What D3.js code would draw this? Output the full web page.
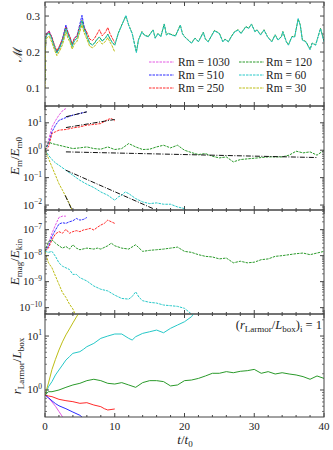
<!DOCTYPE html>
<html lang="en">
<head>
  <meta charset="UTF-8">
  <title>Rm runs</title>
  <script src="https://d3js.org/d3.v7.min.js"></script>
  <style>
    body { margin: 0; background: #fff; }
    text { font-family: "Liberation Serif", "DejaVu Serif", serif; fill: #222; }
    .series { fill: none; stroke-width: 1; }
    .frame { fill: none; stroke: #444; stroke-width: 1; }
  </style>
</head>
<body>
  <div id="chart"></div>
  <script>
    // ---- data ----
    const runNames = ["1030", "510", "250", "120", "60", "30"];
    const runColors = ["#e458e4", "#2a2aff", "#ff2a2a", "#2a9a2a", "#26c8c8", "#bdbd14"];

    // Mach number, early phase (t = 0..10), common time grid
    const machTimeEarly = [0, 0.1, 0.3, 0.6, 1.0, 1.4, 1.7, 2.1, 2.5, 3.0, 3.3, 3.6, 3.9, 4.2, 4.6, 5.0, 5.3, 5.6, 6.0, 6.4, 6.8, 7.1, 7.4, 7.8, 8.2, 8.7, 9.0, 9.3, 9.6, 10.0];
    const mach1030 = [0.12, 0.244, 0.254, 0.258, 0.240, 0.212, 0.198, 0.214, 0.236, 0.272, 0.252];
    const mach510 = [0.12, 0.243, 0.253, 0.257, 0.240, 0.214, 0.200, 0.216, 0.236, 0.275, 0.254, 0.240, 0.220, 0.238, 0.246, 0.278, 0.302, 0.272, 0.250];
    const mach250 = [0.12, 0.242, 0.252, 0.257, 0.240, 0.217, 0.203, 0.218, 0.236, 0.268, 0.254, 0.241, 0.222, 0.238, 0.245, 0.270, 0.288, 0.268, 0.255, 0.236, 0.232, 0.238, 0.248, 0.262, 0.245, 0.256, 0.268, 0.252, 0.240, 0.226];
    const mach120Early = [0.12, 0.240, 0.249, 0.253, 0.236, 0.212, 0.199, 0.212, 0.230, 0.266, 0.248, 0.235, 0.216, 0.232, 0.239, 0.268, 0.288, 0.265, 0.246, 0.225, 0.220, 0.225, 0.234, 0.242, 0.231, 0.240, 0.250, 0.238, 0.228, 0.219];
    const mach60Early = [0.12, 0.239, 0.248, 0.252, 0.235, 0.211, 0.197, 0.211, 0.229, 0.264, 0.247, 0.234, 0.215, 0.231, 0.238, 0.266, 0.286, 0.263, 0.245, 0.224, 0.219, 0.224, 0.233, 0.241, 0.230, 0.239, 0.249, 0.237, 0.227, 0.219];
    const mach30 = [0.10, 0.232, 0.240, 0.244, 0.226, 0.204, 0.190, 0.203, 0.220, 0.255, 0.238, 0.226, 0.208, 0.222, 0.230, 0.257, 0.275, 0.254, 0.236, 0.216, 0.212, 0.216, 0.224, 0.232, 0.222, 0.230, 0.240, 0.228, 0.218, 0.200];

    // Mach number, late phase (t > 10), only Rm = 120 and 60 keep running
    const machTimeLate = [10.5, 11.0, 11.6, 12.0, 12.5, 13.1, 13.4, 13.9, 14.2, 14.8, 15.5, 15.8, 16.2, 16.6, 17.1, 17.4, 17.7, 18.2, 18.7, 19.4, 19.7, 20.0, 20.5, 21.0, 21.5, 22.0, 22.7, 23.0, 23.4, 23.8, 24.3, 25.0, 25.5, 25.8, 26.3, 26.7, 27.2, 27.7, 28.1, 28.8, 29.2, 29.6, 30.1, 30.4, 30.9, 31.4, 31.9, 32.5, 33.0, 33.4, 33.9, 34.1, 34.6, 34.9, 35.4, 35.8, 36.3, 36.6, 36.9, 37.4, 38.0, 38.3, 38.8, 39.5, 40.0];
    const mach60Late = [0.251, 0.274, 0.302, 0.274, 0.251, 0.198, 0.233, 0.256, 0.247, 0.242, 0.261, 0.238, 0.251, 0.242, 0.277, 0.247, 0.251, 0.247, 0.244, 0.274, 0.251, 0.242, 0.233, 0.224, 0.238, 0.228, 0.254, 0.235, 0.228, 0.242, 0.259, 0.251, 0.228, 0.235, 0.228, 0.242, 0.256, 0.261, 0.251, 0.270, 0.265, 0.277, 0.256, 0.261, 0.247, 0.261, 0.242, 0.228, 0.247, 0.233, 0.242, 0.256, 0.228, 0.219, 0.242, 0.242, 0.293, 0.274, 0.233, 0.228, 0.206, 0.224, 0.219, 0.265, 0.228];
    const mach120Late = [0.252, 0.275, 0.300, 0.275, 0.252, 0.200, 0.234, 0.257, 0.248, 0.243, 0.262, 0.239, 0.252, 0.243, 0.278, 0.248, 0.252, 0.248, 0.245, 0.275, 0.252, 0.243, 0.234, 0.225, 0.239, 0.229, 0.255, 0.236, 0.229, 0.243, 0.260, 0.252, 0.229, 0.236, 0.229, 0.243, 0.257, 0.262, 0.252, 0.271, 0.266, 0.278, 0.257, 0.262, 0.248, 0.262, 0.243, 0.229, 0.248, 0.234, 0.243, 0.257, 0.229, 0.220, 0.243, 0.243, 0.292, 0.275, 0.234, 0.229, 0.208, 0.225, 0.220, 0.266, 0.230];

    // E_m / E_m0
    const emTime1030 = [0, 0.5, 1, 1.5, 2, 2.6, 3];
    const em1030 = [1, 2.3, 7, 12, 19, 29, 33];
    const emTime510 = [0, 0.5, 1, 1.5, 2, 3, 4, 5, 6];
    const em510 = [1, 1.7, 4.7, 8.1, 12.3, 15.5, 19, 22, 25];
    const emTime250 = [0, 0.5, 1, 1.5, 2, 3, 4, 5, 6, 7, 8, 9, 9.5, 10];
    const em250 = [1, 1.32, 4.1, 4.7, 5.4, 5.7, 6.5, 7.1, 8.2, 8.7, 9.4, 13.2, 14.4, 11.8];
    const emTime120 = [0, 0.5, 1, 2, 3, 4, 5, 6, 7, 8, 9, 10, 11, 12, 13, 14, 15, 16, 17, 18, 19, 20, 21, 22, 23, 24, 25, 26, 27, 28, 29, 30, 31, 32, 33, 34, 35, 36, 37, 38, 39, 40];
    const em120 = [1, 2.01, 1.75, 1.52, 1.32, 1.15, 1.22, 1.32, 1.15, 1.09, 1.32, 1.06, 1.15, 1.75, 1.32, 1.06, 1.09, 1.32, 1.52, 1.22, 1.52, 1.0, 0.82, 0.695, 0.755, 0.60, 0.525, 0.57, 0.375, 0.456, 0.483, 0.51, 0.54, 0.57, 0.57, 0.57, 0.66, 0.92, 0.80, 0.87, 0.66, 1.0];
    const emTime60 = [0, 0.5, 1, 1.5, 2, 3, 4, 5, 6, 7, 8, 9, 10, 10.5, 11, 11.5, 12, 13, 14, 15, 16, 17, 18, 19, 20, 20.5];
    const em60 = [1, 0.657, 0.456, 0.345, 0.284, 0.186, 0.122, 0.080, 0.0574, 0.0434, 0.0301, 0.0228, 0.0150, 0.0198, 0.0228, 0.0301, 0.0262, 0.0172, 0.0130, 0.0113, 0.0120, 0.0107, 0.0107, 0.00855, 0.00743, 0.0056];
    const emTime30 = [0, 0.5, 1, 1.5, 2, 2.5, 3, 3.5, 3.9];
    const em30 = [1, 0.5, 0.245, 0.123, 0.060, 0.035, 0.020, 0.0112, 0.0065];
    // dash-dot fits: [t0, t1] and [value0, value1]
    const fitTimes = [[3, 6], [3, 10], [3, 39], [3, 15.5], [2.9, 3.9]];
    const fitValues = [[16.6, 25.1], [6.7, 13.2], [0.87, 0.54], [0.186, 0.0074], [0.0224, 0.0063]];

    // E_mag / E_kin
    const ebTime1030 = [0, 0.5, 1, 1.5, 2, 2.5, 3];
    const eb1030 = [1.46e-8, 3.03e-8, 7.26e-8, 1.50e-7, 2.94e-7, 3.30e-7, 3.30e-7];
    const ebTime510 = [0, 0.5, 1, 1.5, 2, 2.5, 3, 3.5, 4, 4.5, 5, 5.5, 6];
    const eb510 = [1.46e-8, 2.26e-8, 5.42e-8, 9.70e-8, 1.64e-7, 1.85e-7, 1.74e-7, 2.01e-7, 2.20e-7, 2.69e-7, 2.33e-7, 2.47e-7, 2.94e-7];
    const ebTime250 = [0, 0.5, 1, 1.5, 2, 2.5, 3, 3.5, 4, 4.5, 5, 5.5, 6, 6.5, 7, 7.5, 8, 8.5, 9, 9.5, 10];
    const eb250 = [1.46e-8, 1.95e-8, 4.06e-8, 6.84e-8, 8.39e-8, 7.26e-8, 1.03e-7, 7.26e-8, 8.39e-8, 9.16e-8, 8.39e-8, 9.70e-8, 1.03e-7, 1.12e-7, 9.70e-8, 1.23e-7, 1.50e-7, 1.74e-7, 2.33e-7, 2.01e-7, 1.74e-7];
    const ebTime120 = [0, 0.5, 1, 1.5, 2, 2.5, 3, 3.5, 4, 4.5, 5, 6, 7, 7.5, 8, 9, 9.5, 10, 11, 12, 13, 14, 15, 16, 17, 18, 19, 20, 21, 22, 23, 24, 25, 26, 27, 28, 29, 30, 31, 32, 33, 34, 35, 36, 37, 38, 39, 40];
    const eb120 = [1.46e-8, 3.50e-8, 4.06e-8, 3.03e-8, 2.40e-8, 1.95e-8, 2.26e-8, 1.79e-8, 2.62e-8, 1.95e-8, 1.69e-8, 1.95e-8, 1.79e-8, 1.95e-8, 1.79e-8, 2.40e-8, 3.03e-8, 2.40e-8, 1.95e-8, 1.79e-8, 2.62e-8, 1.46e-8, 1.60e-8, 1.69e-8, 1.79e-8, 1.95e-8, 2.13e-8, 1.46e-8, 1.34e-8, 1.09e-8, 9.4e-9, 8.9e-9, 7.5e-9, 8.1e-9, 5.3e-9, 6.1e-9, 5.3e-9, 5.6e-9, 7.0e-9, 7.5e-9, 9.4e-9, 1.0e-8, 1.09e-8, 1.19e-8, 1.26e-8, 1.09e-8, 1.26e-8, 1.46e-8];
    const ebTime60 = [0, 0.5, 1, 1.5, 2, 2.5, 3, 3.5, 4, 4.5, 5, 5.5, 6, 7, 8, 9, 10, 11, 12, 12.5, 13, 13.5, 14, 15, 16, 17, 18, 19, 20, 21];
    const eb60 = [1.46e-8, 1.34e-8, 1.46e-8, 9.4e-9, 5.3e-9, 3.94e-9, 3.40e-9, 2.94e-9, 1.90e-9, 1.90e-9, 1.42e-9, 1.23e-9, 1.06e-9, 6.8e-10, 5.1e-10, 4.4e-10, 3.03e-10, 2.26e-10, 2.13e-10, 2.69e-10, 4.06e-10, 2.47e-10, 1.85e-10, 1.60e-10, 1.50e-10, 1.26e-10, 1.19e-10, 1.12e-10, 9.4e-11, 5.7e-11];
    const ebTime30 = [0, 0.5, 1, 1.5, 2, 2.5, 3, 3.5, 4, 4.4];
    const eb30 = [1.46e-8, 5.3e-9, 3.40e-9, 1.64e-9, 7.9e-10, 3.82e-10, 2.47e-10, 1.38e-10, 8.9e-11, 5.0e-11];

    // r_Larmor / L_box
    const rlTime1030 = [0, 0.5, 1, 1.5, 2, 2.5, 3];
    const rl1030 = [0.81, 0.71, 0.60, 0.50, 0.40, 0.32, 0.26];
    const rlTime510 = [0, 0.5, 1, 1.5, 2, 3, 4, 5, 5.5];
    const rl510 = [0.81, 0.72, 0.63, 0.56, 0.51, 0.45, 0.39, 0.34, 0.30];
    const rlTime250 = [0, 0.5, 1, 2, 3, 4, 5, 6, 7, 8, 8.5, 9, 10];
    const rl250 = [0.81, 0.774, 0.753, 0.672, 0.634, 0.608, 0.566, 0.582, 0.527, 0.491, 0.451, 0.426, 0.445];
    const rlTime120 = [0, 0.5, 1, 2, 3, 4, 5, 6, 7, 8, 9, 10, 11, 12, 13, 14, 15, 16, 17, 18, 19, 20, 21, 22, 23, 24, 25, 26, 27, 28, 29, 30, 31, 32, 33, 34, 35, 36, 37, 38, 39, 40];
    const rl120 = [0.81, 0.93, 0.93, 1.0, 1.12, 1.24, 1.33, 1.49, 1.58, 1.49, 1.33, 1.29, 1.37, 1.24, 1.12, 1.37, 1.49, 1.49, 1.43, 1.19, 1.24, 1.49, 1.53, 1.64, 1.82, 2.04, 2.04, 2.19, 2.09, 2.22, 2.28, 2.41, 2.04, 2.19, 1.98, 2.09, 1.98, 1.90, 1.77, 1.58, 1.82, 1.64];
    const rlTime60 = [0, 0.5, 1, 1.5, 2, 2.5, 3, 3.5, 4, 5, 5.5, 6, 7, 8, 9, 10, 11, 12, 12.5, 13, 14, 15, 16, 17, 18, 19, 20, 21, 21.7, 22.5];
    const rl60 = [0.81, 1.15, 1.43, 1.90, 2.35, 2.90, 3.59, 4.14, 4.78, 5.13, 5.66, 6.35, 7.31, 9.06, 10.0, 10.9, 10.9, 9.06, 8.43, 9.72, 11.2, 12.0, 12.9, 11.5, 13.9, 16.0, 18.4, 22.8, 30.3, 37.5];
    const rlTime30 = [0, 0.5, 1, 1.5, 2, 2.5, 3, 3.5, 4, 4.5, 5];
    const rl30 = [0.81, 1.35, 2.4, 3.7, 5.5, 7.8, 10.5, 13.5, 17.5, 22.5, 28.5];

    // tick values
    const timeTicks = [0, 10, 20, 30, 40];
    const machTicks = [0.1, 0.2, 0.3];

    // ---- layout ----
    const W = 333, H = 450;
    const left = 45, right = 324;
    const panelEdges = [2, 106, 210, 314, 417];

    const svg = d3.select("#chart").append("svg")
      .attr("width", W).attr("height", H);

    const x = d3.scaleLinear().domain([0, 40]).range([left, right]);

    function pairs(ts, vs) {
      return vs.map((v, i) => [ts[i], v]);
    }

    const machSeries = [
      pairs(machTimeEarly, mach1030),
      pairs(machTimeEarly, mach510),
      pairs(machTimeEarly, mach250),
      pairs(machTimeEarly.concat(machTimeLate), mach120Early.concat(mach120Late)),
      pairs(machTimeEarly.concat(machTimeLate), mach60Early.concat(mach60Late)),
      pairs(machTimeEarly, mach30)
    ];
    const emSeries = [
      pairs(emTime1030, em1030), pairs(emTime510, em510), pairs(emTime250, em250),
      pairs(emTime120, em120), pairs(emTime60, em60), pairs(emTime30, em30)
    ];
    const ebSeries = [
      pairs(ebTime1030, eb1030), pairs(ebTime510, eb510), pairs(ebTime250, eb250),
      pairs(ebTime120, eb120), pairs(ebTime60, eb60), pairs(ebTime30, eb30)
    ];
    const rlSeries = [
      pairs(rlTime1030, rl1030), pairs(rlTime510, rl510), pairs(rlTime250, rl250),
      pairs(rlTime120, rl120), pairs(rlTime60, rl60), pairs(rlTime30, rl30)
    ];

    const panels = [
      { y: d3.scaleLinear().domain([0.05, 0.339]), series: machSeries, dash: "3,0.8", log: false, ticks: machTicks },
      { y: d3.scaleLog().domain([0.0066, 41]), series: emSeries, dash: "2.5,1", log: true, ticks: [-2, -1, 0, 1] },
      { y: d3.scaleLog().domain([5.7e-11, 5.7e-7]), series: ebSeries, dash: "2.5,1", log: true, ticks: [-10, -9, -8, -7] },
      { y: d3.scaleLog().domain([0.316, 25.6]), series: rlSeries, dash: null, log: true, ticks: [0, 1] }
    ];

    panels.forEach((p, i) => {
      const top = panelEdges[i], bottom = panelEdges[i + 1];
      p.y.range([bottom, top]);
      drawPanel(p, i, top, bottom);
    });

    function drawPanel(p, i, top, bottom) {
      const g = svg.append("g");

      g.append("clipPath").attr("id", "clip" + i)
        .append("rect").attr("x", left).attr("y", top)
        .attr("width", right - left).attr("height", bottom - top);

      const plot = g.append("g").attr("clip-path", `url(#clip${i})`);
      const line = d3.line().x(d => x(d[0])).y(d => p.y(d[1]));

      p.series.forEach((s, k) => {
        plot.append("path")
          .attr("class", "series")
          .attr("d", line(s))
          .attr("stroke", runColors[k])
          .attr("stroke-dasharray", p.dash);
      });

      // black dash-dot power-law fits in the E_m panel
      if (i === 1) {
        fitTimes.forEach((ts, k) => {
          plot.append("path")
            .attr("class", "series")
            .attr("d", line(pairs(ts, fitValues[k])))
            .attr("stroke", "#111")
            .attr("stroke-dasharray", "5,1.5,1,1.5");
        });
      }

      // x ticks (inward, top and bottom)
      d3.range(0, 41, 2).forEach(t => {
        const len = t % 10 === 0 ? 4 : 2;
        g.append("line").attr("x1", x(t)).attr("x2", x(t))
          .attr("y1", bottom).attr("y2", bottom - len).attr("stroke", "#444");
        g.append("line").attr("x1", x(t)).attr("x2", x(t))
          .attr("y1", top).attr("y2", top + len).attr("stroke", "#444");
      });

      // y ticks
      let major, minor;
      if (p.log) {
        major = p.ticks.map(e => Math.pow(10, e));
        minor = [];
        const [lo, hi] = p.y.domain();
        for (let e = Math.floor(Math.log10(lo)); e <= Math.ceil(Math.log10(hi)); e++) {
          for (let m = 2; m <= 9; m++) {
            const v = m * Math.pow(10, e);
            if (v > lo && v < hi) minor.push(v);
          }
        }
      } else {
        major = p.ticks;
        minor = d3.range(0.075, 0.34, 0.025).filter(v => Math.abs(v * 10 - Math.round(v * 10)) > 0.01);
      }
      major.forEach(v => {
        g.append("line").attr("x1", left).attr("x2", left + 4)
          .attr("y1", p.y(v)).attr("y2", p.y(v)).attr("stroke", "#444");
        g.append("line").attr("x1", right).attr("x2", right - 4)
          .attr("y1", p.y(v)).attr("y2", p.y(v)).attr("stroke", "#444");
      });
      minor.forEach(v => {
        g.append("line").attr("x1", left).attr("x2", left + 2)
          .attr("y1", p.y(v)).attr("y2", p.y(v)).attr("stroke", "#444").attr("stroke-width", 0.7);
        g.append("line").attr("x1", right).attr("x2", right - 2)
          .attr("y1", p.y(v)).attr("y2", p.y(v)).attr("stroke", "#444").attr("stroke-width", 0.7);
      });

      // y tick labels
      if (p.log) {
        p.ticks.forEach(e => {
          const t = g.append("text").attr("x", 42).attr("y", p.y(Math.pow(10, e)) + 3.5)
            .attr("text-anchor", "end").attr("font-size", 11);
          t.append("tspan").text("10");
          t.append("tspan").attr("dy", -4.5).attr("font-size", 7.5)
            .text(e < 0 ? "\u2212" + (-e) : String(e));
        });
      } else {
        p.ticks.forEach(v => {
          g.append("text").attr("x", 40).attr("y", p.y(v) + 3.5)
            .attr("text-anchor", "end").attr("font-size", 11).text(v.toFixed(1));
        });
      }

      g.append("rect").attr("class", "frame")
        .attr("x", left).attr("y", top)
        .attr("width", right - left).attr("height", bottom - top);
    }

    // ---- y axis labels ----
    function yLabel(cx, cy, parts) {
      const t = svg.append("text")
        .attr("transform", `translate(${cx},${cy}) rotate(-90)`)
        .attr("text-anchor", "middle").attr("font-size", 13);
      parts.forEach(([txt, sub, italic]) => {
        const s = t.append("tspan").text(txt);
        if (italic) s.attr("font-style", "italic");
        if (sub) s.attr("font-size", sub > 0 ? 9 : 13).attr("dy", sub);
      });
    }
    yLabel(22, 54, [["\u2133", null, false]]);
    yLabel(19, 156, [["E", null, true], ["m", 3, false], ["/", -3, false], ["E", null, true], ["m0", 3, false]]);
    yLabel(19, 262, [["E", null, true], ["mag", 3, false], ["/", -3, false], ["E", null, true], ["kin", 3, false]]);
    yLabel(21, 366, [["r", null, true], ["Larmor", 3, false], ["/", -3, false], ["L", null, true], ["box", 3, false]]);

    // ---- x tick labels and label (bottom panel only) ----
    timeTicks.forEach(t => {
      svg.append("text").attr("x", x(t)).attr("y", 430)
        .attr("text-anchor", "middle").attr("font-size", 11).text(t);
    });
    const xl = svg.append("text").attr("x", 185).attr("y", 444)
      .attr("text-anchor", "middle").attr("font-size", 13);
    xl.append("tspan").attr("font-style", "italic").text("t");
    xl.append("tspan").text("/");
    xl.append("tspan").attr("font-style", "italic").text("t");
    xl.append("tspan").attr("font-size", 9).attr("dy", 3).text("0");

    // ---- annotation in bottom panel ----
    const ann = svg.append("text").attr("x", 322).attr("y", 329)
      .attr("text-anchor", "end").attr("font-size", 12.5);
    ann.append("tspan").text("(");
    ann.append("tspan").attr("font-style", "italic").text("r");
    ann.append("tspan").attr("font-size", 9).attr("dy", 3).text("Larmor");
    ann.append("tspan").attr("dy", -3).text("/");
    ann.append("tspan").attr("font-style", "italic").text("L");
    ann.append("tspan").attr("font-size", 9).attr("dy", 3).text("box");
    ann.append("tspan").attr("dy", -3).text(")");
    ann.append("tspan").attr("font-size", 9).attr("dy", 3).text("i");
    ann.append("tspan").attr("dy", -3).text(" = 1");

    // ---- legend (top panel) ----
    const legendCols = [{ lx: 149, tx: 178 }, { lx: 239, tx: 266 }];
    const legendRows = [62, 75, 88];
    runNames.forEach((name, k) => {
      const col = legendCols[Math.floor(k / 3)], row = legendRows[k % 3];
      svg.append("line")
        .attr("x1", col.lx).attr("x2", col.lx + 25)
        .attr("y1", row).attr("y2", row)
        .attr("stroke", runColors[k]).attr("stroke-width", 1)
        .attr("stroke-dasharray", "2.5,1");
      svg.append("text").attr("x", col.tx).attr("y", row + 4)
        .attr("font-size", 11.5).text("Rm = " + name);
    });
  </script>
</body>
</html>
